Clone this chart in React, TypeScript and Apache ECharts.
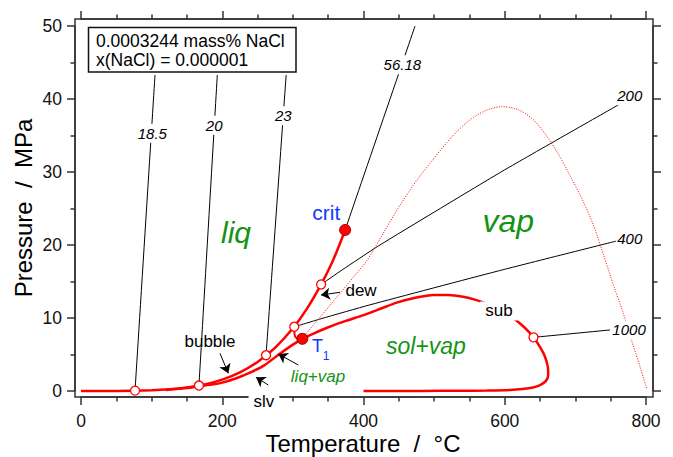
import React, { useEffect, useRef } from "react";
import * as echarts from "echarts";

type Pt = [number, number];

// ---- data (Temperature °C, Pressure MPa) ----
const xTickValues = [0, 200, 400, 600, 800];
const yTickValues = [0, 10, 20, 30, 40, 50];

const bubbleCurve: Pt[] = [
  [0, 0], [50, 0.012], [100, 0.101], [125, 0.232], [150, 0.476], [175, 0.892],
  [200, 1.555], [225, 2.548], [250, 3.976], [275, 5.94], [300, 8.588],
  [320, 11.28], [340, 14.6], [355, 17.5], [365, 19.8], [374, 22.06],
];

const slvSubCurve: Pt[] = [
  [120, 0.15], [150, 0.4], [167, 0.66], [185, 0.88], [200, 1.15], [220, 1.75],
  [240, 2.55], [260, 3.55], [280, 5.0], [300, 6.35], [313.4, 7.15], [330, 7.9],
  [352, 8.8], [375, 9.6], [400, 10.4], [425, 11.3], [447, 12.1], [475, 12.8],
  [499, 13.15], [520, 13.15], [541, 12.9], [560, 12.45], [575, 11.95], [592, 11.1],
  [612, 9.96], [628, 8.7], [640.7, 7.35], [650, 6.0], [657, 4.7], [661, 3.3],
  [661.5, 2.2], [658, 1.35], [650, 0.8], [640, 0.48], [625, 0.27], [607, 0.14],
  [575, 0.06], [541, 0.03], [480, 0.01], [400, 0],
];

const dewHook: Pt[] = [[302, 8.8], [302.2, 7.9], [304.5, 7.3], [313.4, 7.15]];

const slvDotted: Pt[] = [
  [314, 7.3], [340, 10.3], [367, 13.4], [390, 16.1], [405, 17.9], [428, 21.6],
  [450, 25.2], [475, 28.8], [500, 31.9], [525, 34.8], [550, 37.1], [575, 38.5],
  [596, 38.95], [620, 38.5], [640, 37.2], [655, 35.5], [675, 32.6], [693, 29.4],
  [710, 26.2], [726, 22.6], [740, 18.6], [755, 14.2], [768, 10.6], [780, 6.8],
  [792, 3.2], [801, 0.3],
];

const iso185: Pt[] = [[76.5, 0.05], [104.8, 43.3]];
const iso20: Pt[] = [[167, 0.75], [193, 43.3]];
const iso23: Pt[] = [[262, 4.9], [290.5, 43.3]];
const iso5618: Pt[] = [[374, 22.06], [473, 50]];
const iso200: Pt[] = [[340, 14.6], [370, 16.6], [420, 19.8], [500, 24.5], [600, 30.3], [761, 39.2]];
const iso400: Pt[] = [[302, 8.8], [340, 9.9], [409, 11.8], [589, 16.4], [758.5, 20.55]];
const iso1000: Pt[] = [[640.7, 7.35], [749, 8.36]];

const isoLabels: [string, number, number][] = [
  ["18.5", 101, 35.3], ["20", 188.5, 36.4], ["23", 286.5, 37.7], ["56.18", 455, 44.7],
  ["200", 777, 40.5], ["400", 777, 20.9], ["1000", 776, 8.36],
];

const openCircles: Pt[] = [[76.5, 0.05], [167, 0.75], [262, 4.9], [302, 8.8], [340, 14.6], [640.7, 7.35]];
const filledPoints: Pt[] = [[374, 22.06], [313.4, 7.15]];

const phaseLabels: [string, number, number][] = [
  ["liq", 219.5, 21.7], ["vap", 605, 23.35], ["sol+vap", 488.3, 6.16], ["liq+vap", 335.6, 1.92],
];
const blueLabels: [string, number, number][] = [["crit", 347.4, 24.4], ["T", 334.9, 6.16], ["1", 346.9, 4.86]];
const curveLabels: [string, number, number][] = [
  ["bubble", 182.7, 6.78], ["slv", 259, -1.44], ["dew", 396.5, 13.8], ["sub", 591.8, 10.96],
];

const arrows: [Pt, Pt][] = [
  [[196.8, 5.16], [208.6, 2.42]],
  [[265.2, 0.82], [247.8, 1.88]],
  [[307.7, 3.56], [279.4, 5.07]],
  [[366.7, 13.52], [339.8, 13.15]],
];

const boxLines = ["0.0003244 mass% NaCl", "x(NaCl) = 0.000001"];
const xTitle = "Temperature  /  \u00B0C";
const yTitle = "Pressure  /  MPa";

// ---- styles ----
const FONT = "'Liberation Sans', Arial, Helvetica, sans-serif";
const RED = "#ff0000";
const GREEN = "#139413";
const BLUE = "#1038ff";
const AXIS = "#333";

const phaseSize: Record<string, number> = { liq: 30, vap: 32, "sol+vap": 23, "liq+vap": 17 };
const blueSize: Record<string, number> = { crit: 21, T: 18, "1": 12 };
const whiteBg: Record<string, boolean> = { slv: true, sub: true };

export default function App() {
  const ref = useRef<HTMLDivElement>(null);
  useEffect(() => {
    if (!ref.current) return;
    const chart = echarts.init(ref.current, undefined, { renderer: "svg" });

    const tickStyle = { color: AXIS, width: 1.5 };
    const xBase = {
      type: "value" as const, min: xTickValues[0], max: xTickValues[xTickValues.length - 1],
      interval: xTickValues[1] - xTickValues[0],
      axisLine: { show: true, onZero: false, lineStyle: tickStyle },
      axisTick: { show: true, length: 8, lineStyle: tickStyle },
      minorTick: { show: true, splitNumber: 4, length: 4.5, lineStyle: tickStyle },
      splitLine: { show: false },
    };
    const yBase = {
      type: "value" as const, min: yTickValues[0], max: yTickValues[yTickValues.length - 1],
      interval: yTickValues[1] - yTickValues[0],
      axisLine: { show: true, onZero: false, lineStyle: tickStyle },
      axisTick: { show: true, length: 8, lineStyle: tickStyle },
      minorTick: { show: true, splitNumber: 2, length: 4.5, lineStyle: tickStyle },
      splitLine: { show: false },
    };
    const labelStyle = { fontSize: 17.5, color: "#111", fontFamily: FONT };

    const redLine = (data: Pt[], width = 2.5) => ({
      type: "line", data, symbol: "none", smooth: 0.25, clip: false, silent: true, z: 4,
      lineStyle: { color: RED, width },
    });
    const blackLine = (data: Pt[]) => ({
      type: "line", data, symbol: "none", smooth: 0.2, clip: false, silent: true, z: 3,
      lineStyle: { color: "#000", width: 1 },
    });

    const textItems: any[] = [];
    isoLabels.forEach(([t, x, y]) => textItems.push({
      value: [x, y],
      label: { formatter: t, fontSize: 15, fontStyle: "italic", color: "#000", backgroundColor: "#fff", padding: [2, 1] },
    }));
    phaseLabels.forEach(([t, x, y]) => textItems.push({
      value: [x, y],
      label: { formatter: t, fontSize: phaseSize[t], fontStyle: "italic", color: GREEN },
    }));
    blueLabels.forEach(([t, x, y]) => textItems.push({
      value: [x, y],
      label: { formatter: t, fontSize: blueSize[t], color: BLUE },
    }));
    curveLabels.forEach(([t, x, y]) => textItems.push({
      value: [x, y],
      label: whiteBg[t]
        ? { formatter: t, fontSize: 17, color: "#000", backgroundColor: "#fff", padding: [1, 5] }
        : { formatter: t, fontSize: 17, color: "#000" },
    }));

    chart.setOption({
      animation: false,
      grid: { left: 81, right: 27, top: 26, bottom: 66 },
      xAxis: [
        { ...xBase, position: "bottom", offset: 6, axisLabel: { ...labelStyle, margin: 15 } },
        { ...xBase, position: "top", offset: 7, axisLabel: { show: false } },
      ],
      yAxis: [
        { ...yBase, position: "left", offset: 6, axisLabel: { ...labelStyle, margin: 13 } },
        { ...yBase, position: "right", offset: 7, axisLabel: { show: false } },
      ],
      series: [
        blackLine(iso185), blackLine(iso20), blackLine(iso23), blackLine(iso5618),
        blackLine(iso200), blackLine(iso400), blackLine(iso1000),
        {
          type: "line", data: slvDotted, symbol: "none", smooth: 0.3, clip: false, silent: true, z: 3,
          lineStyle: { color: RED, width: 1, type: [1, 1.5] },
        },
        redLine(bubbleCurve), redLine(slvSubCurve), redLine(dewHook, 2),
        {
          type: "lines", coordinateSystem: "cartesian2d", xAxisIndex: 0, yAxisIndex: 0,
          symbol: ["none", "arrow"], symbolSize: [0, 9], silent: true, z: 5,
          lineStyle: { color: "#000", width: 1, opacity: 1 },
          data: arrows.map((a) => ({ coords: a })),
        },
        {
          type: "scatter", data: openCircles, symbol: "circle", symbolSize: 9, clip: false, silent: true, z: 6,
          itemStyle: { color: "#fff", borderColor: RED, borderWidth: 1.3, opacity: 1 },
        },
        {
          type: "scatter", data: filledPoints, symbol: "circle", symbolSize: 11, clip: false, silent: true, z: 6,
          itemStyle: { color: RED, borderColor: "#900", borderWidth: 1, opacity: 1 },
        },
        {
          type: "scatter", data: textItems, symbol: "circle", symbolSize: 1, clip: false, silent: true, z: 8,
          label: { show: true, position: "inside", fontFamily: FONT, opacity: 1 },
          itemStyle: { color: "rgba(0,0,0,0)", opacity: 1 },
          labelLayout: { hideOverlap: false },
        },
      ],
      graphic: [
        {
          type: "rect", z: 1, silent: true,
          shape: { x: 75, y: 19, width: 578, height: 378 },
          style: { fill: "none", stroke: AXIS, lineWidth: 1.5 },
        },
        {
          type: "rect", z: 20, silent: true,
          shape: { x: 88.5, y: 27.5, width: 207.5, height: 44.5 },
          style: { fill: "#fff", stroke: "#111", lineWidth: 1.5 },
        },
        ...boxLines.map((t, i) => ({
          type: "text", z: 21, silent: true, x: 96, y: 40.5 + i * 19.5,
          style: {
            text: t, fill: "#000", fontSize: 17.5, fontFamily: FONT,
            align: "left", verticalAlign: "middle", textAlign: "left", textVerticalAlign: "middle",
          },
        })),
        {
          type: "text", z: 21, silent: true, x: 363, y: 443,
          style: {
            text: xTitle, fill: "#000", fontSize: 24, fontFamily: FONT,
            align: "center", verticalAlign: "middle", textAlign: "center", textVerticalAlign: "middle",
          },
        },
        {
          type: "text", z: 21, silent: true, x: 23, y: 208, rotation: Math.PI / 2,
          style: {
            text: yTitle, fill: "#000", fontSize: 24, fontFamily: FONT,
            align: "center", verticalAlign: "middle", textAlign: "center", textVerticalAlign: "middle",
          },
        },
      ],
    });
    return () => chart.dispose();
  }, []);
  return (
    <div
      ref={ref}
      style={{ position: "absolute", left: 0, top: 0, width: 673, height: 457, background: "#fff" }}
    />
  );
}
